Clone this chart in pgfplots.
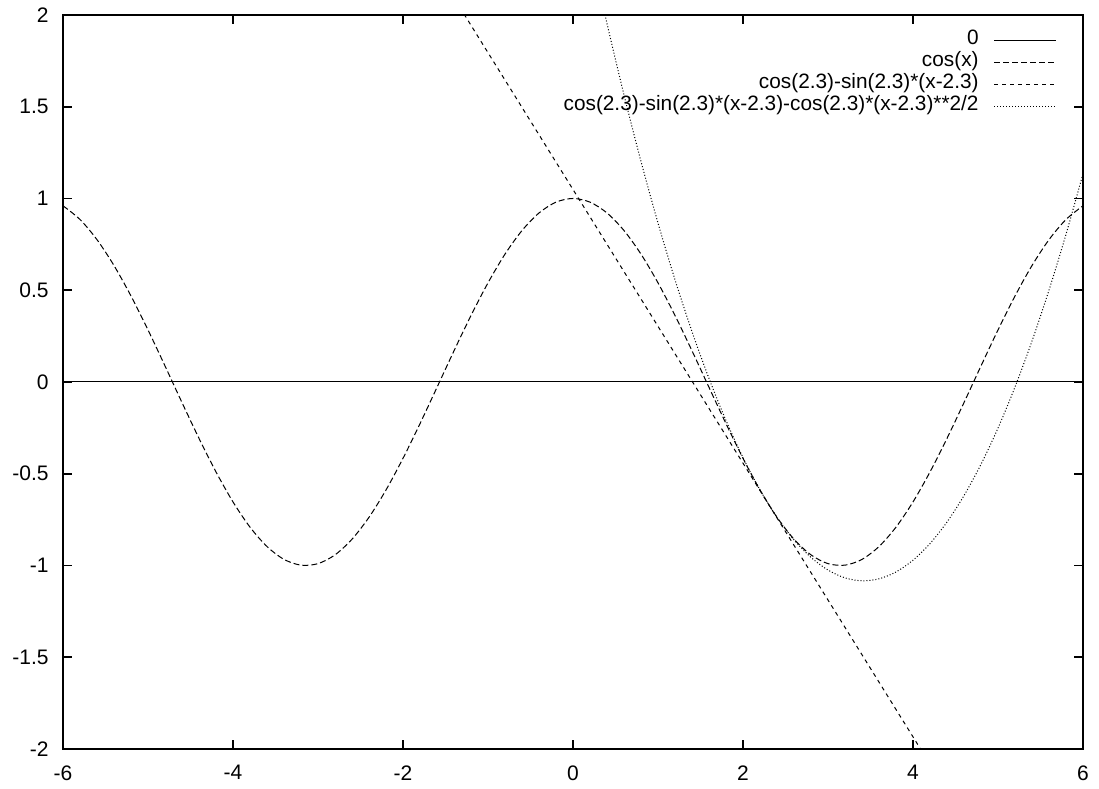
\documentclass[border=0pt]{standalone}
\usepackage{pgfplots}
\usepackage{pgfplotstable}
\usepackage{fontspec}
\setmainfont{Liberation Sans}
\usetikzlibrary{calc}
\pgfplotsset{compat=1.18}

% cos(x) sampled every 0.2
\pgfplotstableread{
x y
-6.0 0.96017
-5.8 0.88552
-5.6 0.77557
-5.4 0.63469
-5.2 0.46852
-5.0 0.28366
-4.8 0.08750
-4.6 -0.11215
-4.4 -0.30733
-4.2 -0.49026
-4.0 -0.65364
-3.8 -0.79097
-3.6 -0.89676
-3.4 -0.96680
-3.2 -0.99829
-3.0 -0.98999
-2.8 -0.94222
-2.6 -0.85689
-2.4 -0.73739
-2.2 -0.58850
-2.0 -0.41615
-1.8 -0.22720
-1.6 -0.02920
-1.4 0.16997
-1.2 0.36236
-1.0 0.54030
-0.8 0.69671
-0.6 0.82534
-0.4 0.92106
-0.2 0.98007
0.0 1.00000
0.2 0.98007
0.4 0.92106
0.6 0.82534
0.8 0.69671
1.0 0.54030
1.2 0.36236
1.4 0.16997
1.6 -0.02920
1.8 -0.22720
2.0 -0.41615
2.2 -0.58850
2.4 -0.73739
2.6 -0.85689
2.8 -0.94222
3.0 -0.98999
3.2 -0.99829
3.4 -0.96680
3.6 -0.89676
3.8 -0.79097
4.0 -0.65364
4.2 -0.49026
4.4 -0.30733
4.6 -0.11215
4.8 0.08750
5.0 0.28366
5.2 0.46852
5.4 0.63469
5.6 0.77557
5.8 0.88552
6.0 0.96017
}\cosdata

% second order expansion around 2.3
\pgfplotstableread{
x y
0.2 2.3688
0.4 1.9532
0.6 1.5642
0.8 1.2018
1.0 0.8661
1.2 0.5571
1.4 0.2747
1.6 0.0190
1.8 -0.2101
2.0 -0.4126
2.2 -0.5884
2.4 -0.7375
2.6 -0.8600
2.8 -0.9558
3.0 -1.0250
3.2 -1.0676
3.4 -1.0835
3.6 -1.0727
3.8 -1.0353
4.0 -0.9712
4.2 -0.8805
4.4 -0.7631
4.6 -0.6191
4.8 -0.4484
5.0 -0.2511
5.2 -0.0271
5.4 0.2235
5.6 0.5008
5.8 0.8047
6.0 1.1353
}\quaddata

\begin{document}
\begin{tikzpicture}
\begin{axis}[
    scale only axis,
    width=510pt, height=367pt,
    xmin=-6, xmax=6, ymin=-2, ymax=2,
    xtick={-6,-4,...,6},
    ytick={-2,-1.5,...,2},
    tick align=inside,
    major tick length=4.5pt,
    axis line style={line width=0.8pt},
    every tick/.style={black, line width=0.8pt},
    tick label style={font=\fontsize{10.5}{12}\selectfont},
    /pgf/number format/assume math mode=true,
    yticklabel style={xshift=-3.7pt},
    xticklabel style={yshift=-4.7pt},
    legend cell align=right,
    legend plot pos=right,
    legend image code/.code={\draw[#1] (0pt,0pt) -- (31pt,0pt);},
    legend style={at={(1,1)}, anchor=north east, xshift=-13pt, yshift=-6.9pt,
        draw=none, fill=none, font=\fontsize{10.4}{11}\selectfont,
        inner sep=0pt, row sep=0pt, column sep=7.5pt,
        nodes={inner sep=0pt, text height=7.6pt, text depth=3.5pt}},
]
\addplot[black, line width=0.5pt] coordinates {(-6,0) (6,0)};
\addplot[black, line width=0.5pt, dash pattern=on 3pt off 1.5pt, smooth] table {\cosdata};
\addplot[black, line width=0.5pt, dash pattern=on 2pt off 2pt] coordinates {(-6,5.5231) (6,-3.4254)};
\addplot[black, line width=0.5pt, dash pattern=on 0.5pt off 1pt, smooth] table {\quaddata};
\legend{0, cos(x), cos(2.3)-sin(2.3)*(x-2.3), cos(2.3)-sin(2.3)*(x-2.3)-cos(2.3)*(x-2.3)**2/2}
\end{axis}
\path ($(current axis.south west)+(-31.5pt,-20pt)$) rectangle ($(current axis.north east)+(8pt,7.5pt)$);
\end{tikzpicture}
\end{document}
